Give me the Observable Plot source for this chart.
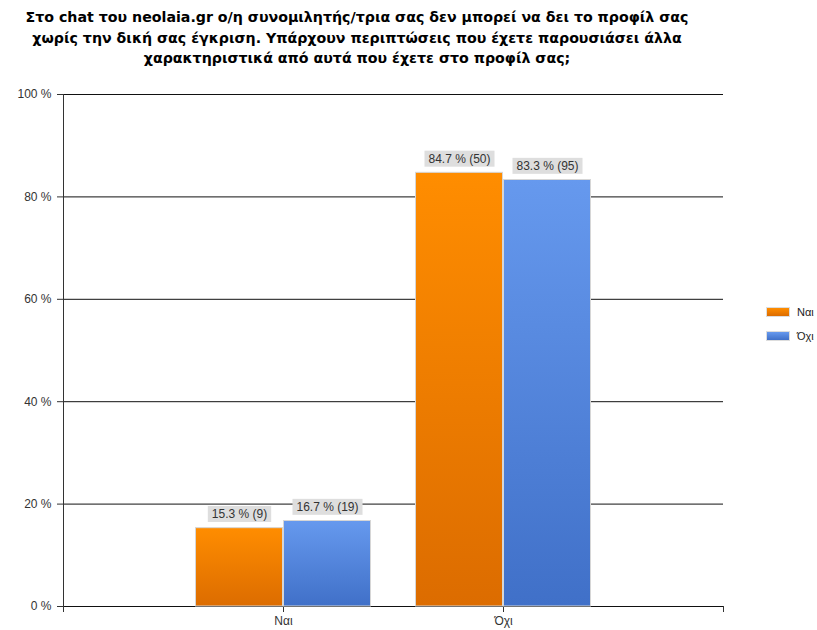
<!DOCTYPE html>
<html>
<head>
<meta charset="utf-8">
<script src="https://cdn.jsdelivr.net/npm/d3@7"></script>
<script src="https://cdn.jsdelivr.net/npm/@observablehq/plot@0.6"></script>
<style>
  body { margin: 0; background: #fff; font-family: "Liberation Sans", Arial, sans-serif; }
  #wrap { position: relative; width: 817px; height: 630px; }
  #title { width: 714px; height: 75px; box-sizing: border-box; padding-top: 7px; text-align: center;
           font-family: "DejaVu Sans", Verdana, sans-serif;
           font-weight: bold; font-size: 14.2px; line-height: 20.5px; color: #000; }
  #legend { position: absolute; left: 766px; top: 300px; font-size: 11px; color: #222; }
  .li { display: flex; align-items: center; height: 24px; }
  .sw { width: 24px; height: 10px; margin-right: 7px; border: 1px solid #ddd; box-sizing: border-box; }
</style>
</head>
<body>
<div id="wrap">
  <div id="title">Στο chat του neolaia.gr ο/η συνομιλητής/τρια σας δεν μπορεί να δει το προφίλ σας<br>χωρίς την δική σας έγκριση. Υπάρχουν περιπτώσεις που έχετε παρουσιάσει άλλα<br>χαρακτηριστικά από αυτά που έχετε στο προφίλ σας;</div>
  <div id="chart"></div>
  <div id="legend"></div>
</div>
<script>
const categories = ["Ναι", "Όχι"];
const seriesNames = ["Ναι", "Όχι"];
const naiPercent = [15.3, 84.7];
const naiCounts = [9, 50];
const oxiPercent = [16.7, 83.3];
const oxiCounts = [19, 95];
const yTicks = [0, 20, 40, 60, 80, 100];

const seriesColors = [
  {id: "gOrange", top: "#ff8d00", bottom: "#dc6c00"},
  {id: "gBlue", top: "#6699ee", bottom: "#4070c8"}
];

const rows = [];
categories.forEach((c, ci) => {
  rows.push({cat: c, ci, si: 0, series: seriesNames[0], pct: naiPercent[ci], n: naiCounts[ci]});
  rows.push({cat: c, ci, si: 1, series: seriesNames[1], pct: oxiPercent[ci], n: oxiCounts[ci]});
});
const barW = 0.4;
rows.forEach(r => {
  r.x1 = r.ci + 1 + (r.si - 1) * barW;
  r.x2 = r.x1 + barW;
  r.xm = (r.x1 + r.x2) / 2;
  r.label = `${r.pct.toFixed(1)} % (${r.n})`;
});
const tickLabels = ["", ...categories, ""];

const plot = Plot.plot({
  width: 817,
  height: 555,
  marginTop: 19,
  marginBottom: 24,
  marginLeft: 63,
  marginRight: 94,
  style: {fontFamily: "Liberation Sans, Arial, sans-serif", fontSize: "12px", color: "#333", background: "#fff"},
  x: {domain: [0, categories.length + 1], axis: null},
  y: {domain: [0, 100], axis: null},
  marks: [
    Plot.ruleY(yTicks, {y: d => d, x1: 0, x2: categories.length + 1, stroke: "#111", strokeWidth: 1}),
    Plot.axisY({ticks: yTicks, tickFormat: d => d + " %", tickSize: 6, tickPadding: 6, stroke: "#333", fill: "#333", fontSize: 12, label: null}),
    Plot.ruleX([0], {stroke: "#333"}),
    Plot.axisX({ticks: d3.range(categories.length + 2), tickFormat: i => tickLabels[i], tickSize: 6, tickPadding: 4, stroke: "#333", fill: "#333", fontSize: 12, label: null}),
    Plot.rectY(rows, {x1: "x1", x2: "x2", y1: 0, y2: "pct", fill: d => `url(#${seriesColors[d.si].id})`, stroke: "#d6d6d6", strokeWidth: 1, insetLeft: 0.5, insetRight: 0.5}),
    Plot.text(rows, {x: "xm", y: "pct", text: "label", dy: -14, fill: "#333", fontSize: 12, className: "barlabels"})
  ]
});
document.getElementById("chart").appendChild(plot);

// gradients
const svg = d3.select(plot);
const defs = svg.insert("defs", ":first-child");
seriesColors.forEach(s => {
  const g = defs.append("linearGradient").attr("id", s.id).attr("x1", 0).attr("y1", 0).attr("x2", 0).attr("y2", 1);
  g.append("stop").attr("offset", "0%").attr("stop-color", s.top);
  g.append("stop").attr("offset", "100%").attr("stop-color", s.bottom);
});

// label backgrounds
svg.selectAll("g.barlabels text").each(function() {
  const b = this.getBBox();
  const r = document.createElementNS("http://www.w3.org/2000/svg", "rect");
  r.setAttribute("x", b.x - 4);
  r.setAttribute("y", b.y - 1);
  r.setAttribute("width", b.width + 8);
  r.setAttribute("height", b.height + 2);
  r.setAttribute("fill", "#dedede");
  const t = this.getAttribute("transform");
  if (t) r.setAttribute("transform", t);
  this.parentNode.insertBefore(r, this);
});

// legend
const leg = document.getElementById("legend");
seriesNames.forEach((n, i) => {
  const s = seriesColors[i];
  const li = document.createElement("div");
  li.className = "li";
  li.innerHTML = `<div class="sw" style="background:linear-gradient(${s.top}, ${s.bottom})"></div><span>${n}</span>`;
  leg.appendChild(li);
});
</script>
</body>
</html>
